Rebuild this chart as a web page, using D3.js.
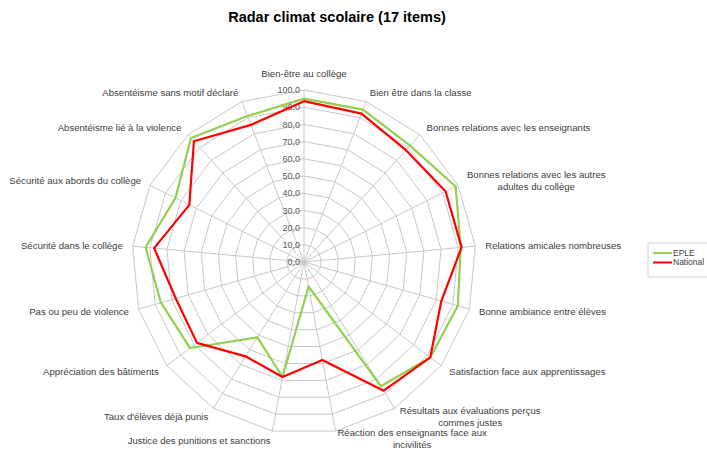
<!DOCTYPE html>
<html>
<head>
<meta charset="utf-8">
<script src="https://cdn.jsdelivr.net/npm/d3@7"></script>
<style>
  body { margin: 0; background: #fff; }
  text { font-family: "Liberation Sans", Arial, sans-serif; }
</style>
</head>
<body>
<div id="chart"></div>
<script>
// data
var categories = [
  "Bien-être au collège",
  "Bien être dans la classe",
  "Bonnes relations avec les enseignants",
  "Bonnes relations avec les autres\nadultes du collège",
  "Relations amicales nombreuses",
  "Bonne ambiance entre élèves",
  "Satisfaction face aux apprentissages",
  "Résultats aux évaluations perçus\ncommes justes",
  "Réaction des enseignants face aux\nincivilités",
  "Justice des punitions et sanctions",
  "Taux d'élèves déjà punis",
  "Appréciation des bâtiments",
  "Pas ou peu de violence",
  "Sécurité dans le collège",
  "Sécurité aux abords du collège",
  "Absentéisme lié à la violence",
  "Absentéisme sans motif déclaré"
]
var seriesNames = ["EPLE", "National"]
var eple =     [95, 95, 91.5, 98.5, 91.5, 93, 92, 85, 14.5, 68, 51.5, 83, 86.5, 92.5, 83.5, 97.5, 91]
var national = [93.5, 92.5, 88, 92, 92, 83, 92, 88, 58, 68, 64.5, 78, 77.5, 87.5, 74.5, 95, 85.5]
var ticks = [0, 10, 20, 30, 40, 50, 60, 70, 80, 90, 100]

var width = 707,
    height = 450,
    cx = 304,
    cy = 262,
    radius = 172

var colors = ["#92D050", "#FF0000"]

var svg = d3.select("#chart")
  .append("svg")
    .attr("width", width)
    .attr("height", height)

// title
svg.append("text")
  .attr("x", 337)
  .attr("y", 22)
  .attr("text-anchor", "middle")
  .style("font-size", "14.5px")
  .style("font-weight", "bold")
  .attr("fill", "#000")
  .text("Radar climat scolaire (17 items)")

var g = svg.append("g")
  .attr("transform", "translate(" + cx + "," + cy + ")")

var r = d3.scaleLinear().domain([0, 100]).range([0, radius])
var n = categories.length
var angle = function(i) { return i * 2 * Math.PI / n }

// grid rings
var ring = d3.lineRadial()
  .angle(function(d, i) { return angle(i) })
  .radius(function(d) { return r(d) })
  .curve(d3.curveLinearClosed)

g.selectAll(".ring")
  .data(ticks.slice(1))
  .enter()
  .append("path")
    .attr("class", "ring")
    .attr("d", function(t) { return ring(categories.map(function() { return t })) })
    .attr("fill", "none")
    .attr("stroke", "#c8c8c8")
    .attr("stroke-width", 1)

// spokes
g.selectAll(".spoke")
  .data(categories)
  .enter()
  .append("line")
    .attr("class", "spoke")
    .attr("x1", 0)
    .attr("y1", 0)
    .attr("x2", function(d, i) { return r(100) * Math.sin(angle(i)) })
    .attr("y2", function(d, i) { return -r(100) * Math.cos(angle(i)) })
    .attr("stroke", "#c8c8c8")
    .attr("stroke-width", 1)

// tick labels
g.selectAll(".tick")
  .data(ticks)
  .enter()
  .append("text")
    .attr("class", "tick")
    .attr("x", -4)
    .attr("y", function(t) { return -r(t) })
    .attr("dy", "0.35em")
    .attr("text-anchor", "end")
    .style("font-size", "9px")
    .attr("fill", "#595959")
    .text(function(t) { return d3.format(".1f")(t).replace(".", ",") })

// category labels
categories.forEach(function(c, i) {
  var a = angle(i),
      s = Math.sin(a),
      co = Math.cos(a)
  var off = Math.abs(s) < 0.01 ? 16 : 10
  var x = (radius + off) * s
  var yc = -radius * co - co * off
  var lines = c.split("\n")
  var lh = 12
  // keep the lowest label inside the picture
  if (lines.length > 1 && co < -0.9) yc -= 2
  var lab = g.append("g")
  var texts = lab.selectAll("text")
    .data(lines)
    .enter()
    .append("text")
      .attr("y", function(d, k) { return yc + (k - (lines.length - 1) / 2) * lh })
      .attr("dy", "0.35em")
      .style("font-size", "9.6px")
      .attr("fill", "#404040")
      .text(function(d) { return d })
  if (Math.abs(s) < 0.01) {
    texts.attr("x", x).attr("text-anchor", "middle")
  } else {
    var w = d3.max(texts.nodes(), function(nd) { return nd.getComputedTextLength() })
    var mid = s > 0 ? x + w / 2 : x - w / 2
    texts.attr("x", mid).attr("text-anchor", "middle")
  }
})

// series
var line = d3.lineRadial()
  .angle(function(d, i) { return angle(i) })
  .radius(function(d) { return r(d) })
  .curve(d3.curveLinearClosed)

var series = [eple, national]
g.selectAll(".series")
  .data(series)
  .enter()
  .append("path")
    .attr("class", "series")
    .attr("d", function(d) { return line(d) })
    .attr("fill", "none")
    .attr("stroke", function(d, i) { return colors[i] })
    .attr("stroke-width", 2.2)
    .attr("stroke-linejoin", "round")

// legend
var legend = svg.append("g").attr("transform", "translate(648,243)")
legend.append("rect")
  .attr("x", 0)
  .attr("y", 0)
  .attr("width", 70)
  .attr("height", 34)
  .attr("fill", "#fff")
  .attr("stroke", "#d0d8c8")
var item = legend.selectAll(".item")
  .data(seriesNames)
  .enter()
  .append("g")
    .attr("class", "item")
    .attr("transform", function(d, i) { return "translate(0," + (10 + i * 9.5) + ")" })
item.append("line")
  .attr("x1", 5)
  .attr("x2", 24)
  .attr("stroke", function(d, i) { return colors[i] })
  .attr("stroke-width", 2)
item.append("text")
  .attr("x", 25)
  .attr("dy", "0.35em")
  .style("font-size", "8.5px")
  .attr("fill", "#404040")
  .text(function(d) { return d })
</script>
</body>
</html>
